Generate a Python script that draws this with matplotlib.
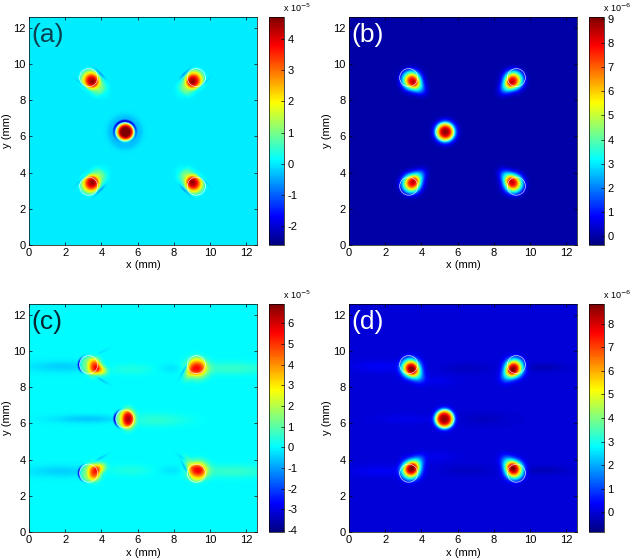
import numpy as np
import matplotlib
matplotlib.use('Agg')
import matplotlib.pyplot as plt
from matplotlib.colors import ListedColormap
from matplotlib.patches import Circle

plt.rcParams['font.family'] = ['Liberation Sans', 'DejaVu Sans']
plt.rcParams['axes.unicode_minus'] = False

W, H = 631, 559
SIZE = 12.6
MX, MY = 6.27, 6.25   # outer spots are mirrored about this point in (a), (b), (d)

# ── Data ──────────────────────────────────────────────────
circle_x = [3.3, 9.25, 5.3, 3.3, 9.25]
circle_y = [9.25, 9.25, 6.25, 3.25, 3.25]
circle_r = 0.5

panel_names = ['(a)', '(b)', '(c)', '(d)']
label_colors = ['#0a4252', 'white', '#08262f', 'white']
cbar_ranges = [(-2.6, 4.7), (-0.37, 9.08), (-4.1, 6.93), (-0.85, 8.85)]
cbar_ticks = [range(-2, 5), range(0, 10), range(-4, 7), range(0, 9)]
cbar_exps = ['-5', '-6', '-5', '-6']

# gaussian lobes: x, y, sx, sy, angle, amp, power
# arcs: x, y, radius, width, direction, spread, amp
# outer_* are given for the top left spot only
outer_a = [(3.44, 9.10, .40, .40, 0, 2.6, 2.6), (3.36, 9.18, .55, .55, 0, 1.3, 5),
           (3.78, 8.76, .52, .42, -45, 1.15, 2.6),
           (3.90, 9.50, .36, .06, -45, -1.0, 2), (2.98, 8.82, .36, .06, -45, -0.9, 2),
           (4.10, 8.35, .28, .12, 45, -0.2, 2)]
center_a = [(5.33, 6.25, .42, .42, 0, 3.4, 4), (5.33, 6.25, .52, .52, 0, 1.6, 8)]
rings_a = [(5.3, 6.25, .60, .07, 90, 110, -2.2), (5.3, 6.25, .78, .22, 90, 999, -0.3)]

outer_b = [(3.46, 9.10, .50, .50, 0, 6.5, 2.4), (3.36, 9.18, .52, .52, 0, 0.8, 4),
           (3.80, 8.76, .50, .34, -45, 2.3, 2.4)]
center_b = [(5.32, 6.25, .52, .52, 0, 7.8, 2.6), (5.3, 6.25, .54, .54, 0, 1.1, 8)]

outer_d = [(3.42, 9.06, .48, .48, 0, 6.8, 2.4), (3.32, 9.16, .52, .52, 0, 0.8, 4),
           (3.70, 8.74, .50, .35, -45, 2.3, 2.4)]
center_d = [(5.27, 6.25, .50, .50, 0, 6.6, 3), (5.27, 6.25, .55, .55, 0, 2.0, 8)]
streaks_d = [(1.8, 9.15, 1.8, .32, 0, 0.3, 2), (1.8, 3.35, 1.8, .32, 0, 0.3, 2),
             (3.2, 6.25, 1.6, .25, 0, 0.2, 2), (7.5, 6.25, 1.4, .35, 0, -0.2, 2),
             (10.8, 9.10, 1.2, .22, 0, -0.3, 2), (10.8, 3.40, 1.2, .22, 0, -0.3, 2),
             (6.5, 9.05, 1.3, .28, 0, -0.2, 2), (6.5, 3.40, 1.3, .28, 0, -0.2, 2),
             (4.9, 8.35, 1.0, .30, 0, 0.2, 2), (4.9, 4.15, 1.0, .30, 0, 0.2, 2)]

lobes_c = [(3.62, 9.15, .36, .44, 0, 3.9, 2.4), (3.35, 9.20, .52, .52, 0, 1.2, 7),
           (3.98, 8.95, .34, .26, -20, 2.4, 2.4),
           (9.30, 9.05, .55, .50, 0, 4.1, 2.2), (9.25, 9.20, .52, .52, 0, 1.1, 7),
           (8.85, 8.75, .42, .20, 60, 1.0, 2),
           (5.48, 6.25, .36, .50, 0, 4.7, 2.6), (5.30, 6.25, .52, .52, 0, 1.5, 8),
           (3.60, 3.30, .36, .44, 0, 3.9, 2.4), (3.35, 3.25, .52, .52, 0, 1.2, 7),
           (3.95, 3.55, .32, .26, 20, 2.2, 2.4),
           (9.35, 3.42, .52, .46, 0, 4.1, 2.2), (9.25, 3.25, .52, .52, 0, 1.3, 7),
           (8.85, 3.78, .42, .20, -60, 1.0, 2),
           (8.65, 9.10, .48, .06, 62, -1.5, 2), (8.70, 3.40, .48, .06, -62, -1.5, 2),
           (3.98, 8.42, .42, .05, -30, -0.8, 2), (3.90, 4.05, .42, .05, 30, -0.7, 2),
           (8.55, 4.05, .40, .05, -35, -0.5, 2), (4.00, 9.95, .40, .05, 25, -0.3, 2)]
streaks_c = [(1.8, 9.15, 1.9, .30, 0, -0.45, 2), (1.8, 3.35, 1.9, .30, 0, -0.45, 2),
             (3.3, 6.25, 1.9, .22, 0, -0.55, 2), (7.0, 6.20, 1.8, .38, 0, 0.5, 2),
             (11.2, 9.05, 2.2, .36, 0, 0.6, 2), (11.2, 3.35, 2.2, .36, 0, 0.6, 2),
             (5.6, 9.00, 1.4, .32, 0, 0.35, 2), (5.5, 3.40, 1.4, .32, 0, 0.35, 2),
             (7.9, 9.05, .8, .25, 0, -0.3, 2), (7.9, 3.40, .8, .25, 0, -0.3, 2)]
arcs_c = [(3.3, 9.25, .56, .05, 180, 45, -3.0), (5.3, 6.25, .57, .06, 180, 48, -3.6),
          (3.3, 3.25, .56, .05, 180, 45, -2.8)]


# ── Field helpers ─────────────────────────────────────────
grid = np.linspace(0, SIZE, 500)
X, Y = np.meshgrid(grid, grid)


def lobe(x0, y0, sx, sy, angle, amp, power):
    t = np.deg2rad(angle)
    u = (X - x0) * np.cos(t) + (Y - y0) * np.sin(t)
    v = -(X - x0) * np.sin(t) + (Y - y0) * np.cos(t)
    return amp * np.exp(-((u / sx)**2 + (v / sy)**2)**(power / 2))


def arc(x0, y0, r0, width, direction, spread, amp):
    r = np.hypot(X - x0, Y - y0)
    th = np.degrees(np.arctan2(Y - y0, X - x0))
    d = (th - direction + 180) % 360 - 180
    return amp * np.exp(-((r - r0) / width)**2) * np.exp(-(d / spread)**2)


def mirrored(terms):
    # top left spot copied to the other three corners
    z = np.zeros_like(X)
    for x0, y0, sx, sy, ang, amp, p in terms:
        z += lobe(x0, y0, sx, sy, ang, amp, p)
        z += lobe(2 * MX - x0, y0, sx, sy, -ang, amp, p)
        z += lobe(x0, 2 * MY - y0, sx, sy, -ang, amp, p)
        z += lobe(2 * MX - x0, 2 * MY - y0, sx, sy, ang, amp, p)
    return z


def add_lobes(terms):
    return sum(lobe(*t) for t in terms)


fields = [
    mirrored(outer_a) + add_lobes(center_a) + sum(arc(*t) for t in rings_a),
    mirrored(outer_b) + add_lobes(center_b),
    add_lobes(lobes_c) + add_lobes(streaks_c) + sum(arc(*t) for t in arcs_c),
    mirrored(outer_d) + add_lobes(center_d) + add_lobes(streaks_d),
]

# MATLAB flavour of jet, the built in one is a bit greener around cyan
t = np.linspace(0, 1, 256)
matlab_jet = ListedColormap(np.clip(1.5 - np.abs(4 * t[:, None] - [3, 2, 1]), 0, 1))

# ── Layout, in pixels of the reference ────────────────────
panel_left = [29, 349, 29, 349]
panel_top = [17, 17, 304, 304]
PANEL = 228
CBAR_GAP, CBAR_W = 12, 15

fig = plt.figure(figsize=(W / 100, H / 100), dpi=100)


def px_axes(left, top, w, h):
    return fig.add_axes([left / W, 1 - (top + h) / H, w / W, h / H])


for i in range(4):
    ax = px_axes(panel_left[i], panel_top[i], PANEL, PANEL)
    vmin, vmax = cbar_ranges[i]
    im = ax.imshow(fields[i], origin='lower', extent=(0, SIZE, 0, SIZE), aspect='auto',
                   cmap=matlab_jet, vmin=vmin, vmax=vmax, interpolation='bilinear')
    for cx, cy in zip(circle_x, circle_y):
        ax.add_patch(Circle((cx, cy), circle_r, fill=False, ec='white', lw=0.5, alpha=0.8))

    ax.set_xlim(0, SIZE)
    ax.set_ylim(0, SIZE)
    ax.set_xticks(range(0, 13, 2))
    ax.set_yticks(range(0, 13, 2))
    ax.tick_params(direction='in', length=2.5, width=0.5, labelsize=8, pad=2.5,
                   top=True, right=True)
    ax.set_xlabel('x (mm)', fontsize=8, va='center')
    ax.set_ylabel('y (mm)', fontsize=8, va='center')
    ax.xaxis.set_label_coords(0.5, -20.5 / PANEL)
    ax.yaxis.set_label_coords(-22 / PANEL, 0.5)
    for s in ax.spines.values():
        s.set_linewidth(0.5)
    ax.text(0.012, 0.972, panel_names[i], transform=ax.transAxes, fontsize=19,
            color=label_colors[i], ha='left', va='top')

    cax = px_axes(panel_left[i] + PANEL + CBAR_GAP, panel_top[i], CBAR_W, PANEL)
    cb = fig.colorbar(im, cax=cax, ticks=list(cbar_ticks[i]))
    cb.ax.tick_params(direction='in', length=2, width=0.5, labelsize=8, pad=2.5)
    cb.outline.set_linewidth(0.5)
    cax.text(0.95, 1.012, 'x 10$^{%s}$' % cbar_exps[i], transform=cax.transAxes,
             fontsize=6.5, ha='left', va='bottom', math_fontfamily='dejavusans')

fig.savefig('out.png', dpi=100)
